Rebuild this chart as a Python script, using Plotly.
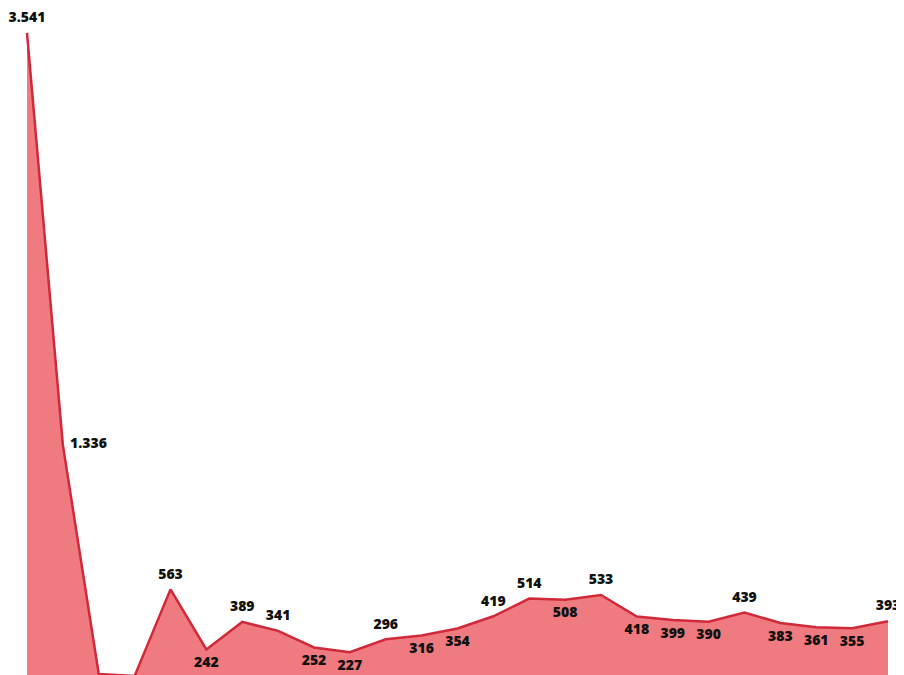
import plotly.graph_objects as go

values = [3541, 1336, 110, 100, 563, 242, 389, 341, 252, 227, 296, 316, 354,
          419, 514, 508, 533, 418, 399, 390, 439, 383, 361, 355, 393]
label_pos = ["top center", "middle right", "bottom center", "bottom center",
             "top center", "bottom center", "top center", "top center",
             "bottom center", "bottom center", "top center", "bottom center",
             "bottom center", "top center", "top center", "bottom center",
             "top center", "bottom center", "bottom center", "bottom center",
             "top center", "bottom center", "bottom center", "bottom center",
             "top center"]
# labels of the two lowest points fall below the visible crop in the reference
hidden_labels = [2, 3]

x = list(range(len(values)))
labels = ["" if i in hidden_labels else f"{v:,}".replace(",", ".")
          for i, v in enumerate(values)]

fig = go.Figure()
fig.add_trace(go.Scatter(
    x=x, y=values, mode="lines+markers+text", fill="tozeroy",
    fillcolor="#EF7A80",
    line=dict(color="#D0293A", width=2.5),
    marker=dict(size=10, color="rgba(0,0,0,0)"),
    text=labels, textposition=label_pos,
    textfont=dict(family="Open Sans", size=14, color="#111111", weight=800),
    cliponaxis=False, hoverinfo="skip",
))

fig.update_layout(
    width=904, height=675,
    margin=dict(l=0, r=0, t=0, b=0),
    paper_bgcolor="white", plot_bgcolor="white",
    showlegend=False,
    xaxis=dict(range=[-0.5296, 24.669], visible=False, fixedrange=True),
    yaxis=dict(range=[62, 3674.5], visible=False, fixedrange=True),
)

fig.write_html("out.html")
